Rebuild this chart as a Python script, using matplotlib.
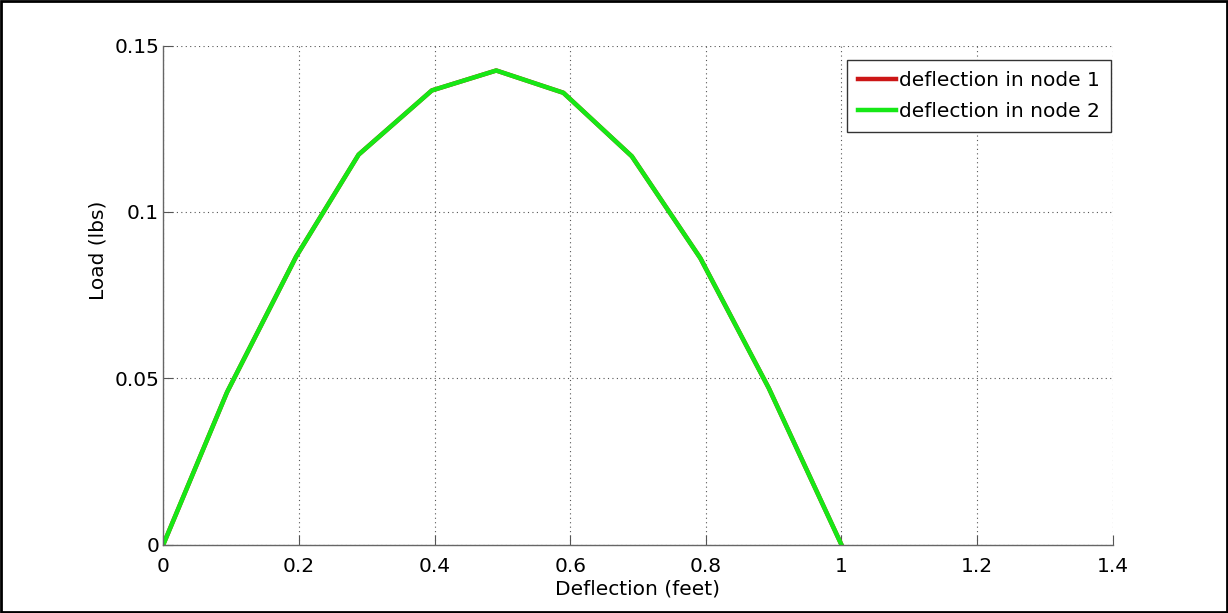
import numpy as np
import matplotlib
matplotlib.use("Agg")
import matplotlib.pyplot as plt

# values
deflection = [0, 0.094, 0.196, 0.288, 0.396, 0.491, 0.590, 0.691, 0.792, 0.893, 1.0]
load_node1 = [0, 0.0458, 0.0866, 0.1172, 0.1365, 0.1425, 0.1358, 0.1167, 0.0861, 0.0470, 0]
load_node2 = [0, 0.0458, 0.0866, 0.1172, 0.1365, 0.1425, 0.1358, 0.1167, 0.0861, 0.0470, 0]
xticks = [0, 0.2, 0.4, 0.6, 0.8, 1, 1.2, 1.4]
xticklabels = ["0", "0.2", "0.4", "0.6", "0.8", "1", "1.2", "1.4"]
yticks = [0, 0.05, 0.1, 0.15]
yticklabels = ["0", "0.05", "0.1", "0.15"]

plt.rcParams['font.family'] = ['DejaVu Sans']
fs = 14.5

fig = plt.figure(figsize=(12.28, 6.13), dpi=100)
ax = fig.add_axes([0.133, 0.1117, 0.773, 0.814])

ax.plot(deflection, load_node1, color='#cc1616', lw=3.2, label='deflection in node 1')
ax.plot(deflection, load_node2, color='#16e816', lw=3.2, label='deflection in node 2')

ax.set_xlim(0, 1.4)
ax.set_ylim(0, 0.15)
ax.set_xticks(xticks)
ax.set_xticklabels(xticklabels)
ax.set_yticks(yticks)
ax.set_yticklabels(yticklabels)
ax.tick_params(direction='in', length=7, width=0.8, colors='#555555',
               labelcolor='black', labelsize=fs)
ax.tick_params(axis='x', pad=9)
ax.tick_params(axis='y', pad=3)

ax.grid(True, linestyle=(0, (1, 3)), color='#555555', lw=0.8)
ax.spines['top'].set_visible(False)
ax.spines['right'].set_visible(False)
for s in ['left', 'bottom']:
    ax.spines[s].set_color('#666666')
    ax.spines[s].set_linewidth(1.0)

ax.set_xlabel('Deflection (feet)', fontsize=fs)
ax.set_ylabel('Load (lbs)', fontsize=fs)
ax.yaxis.set_label_coords(-0.059, 0.59)
ax.xaxis.set_label_coords(0.5, -0.071)

leg = ax.legend(loc='upper right', bbox_to_anchor=(0.998, 0.972), fontsize=fs,
                handlelength=1.85, handletextpad=0.15, borderpad=0.55,
                labelspacing=0.6, borderaxespad=0, fancybox=False,
                framealpha=1, edgecolor='#333333')
leg.get_frame().set_linewidth(1.0)

# black border round the whole figure
fig.patches.append(plt.Rectangle((0.001, 0.002), 0.998, 0.996, transform=fig.transFigure,
                                 fill=False, edgecolor='black', lw=2))

fig.savefig('out.png', dpi=100)
